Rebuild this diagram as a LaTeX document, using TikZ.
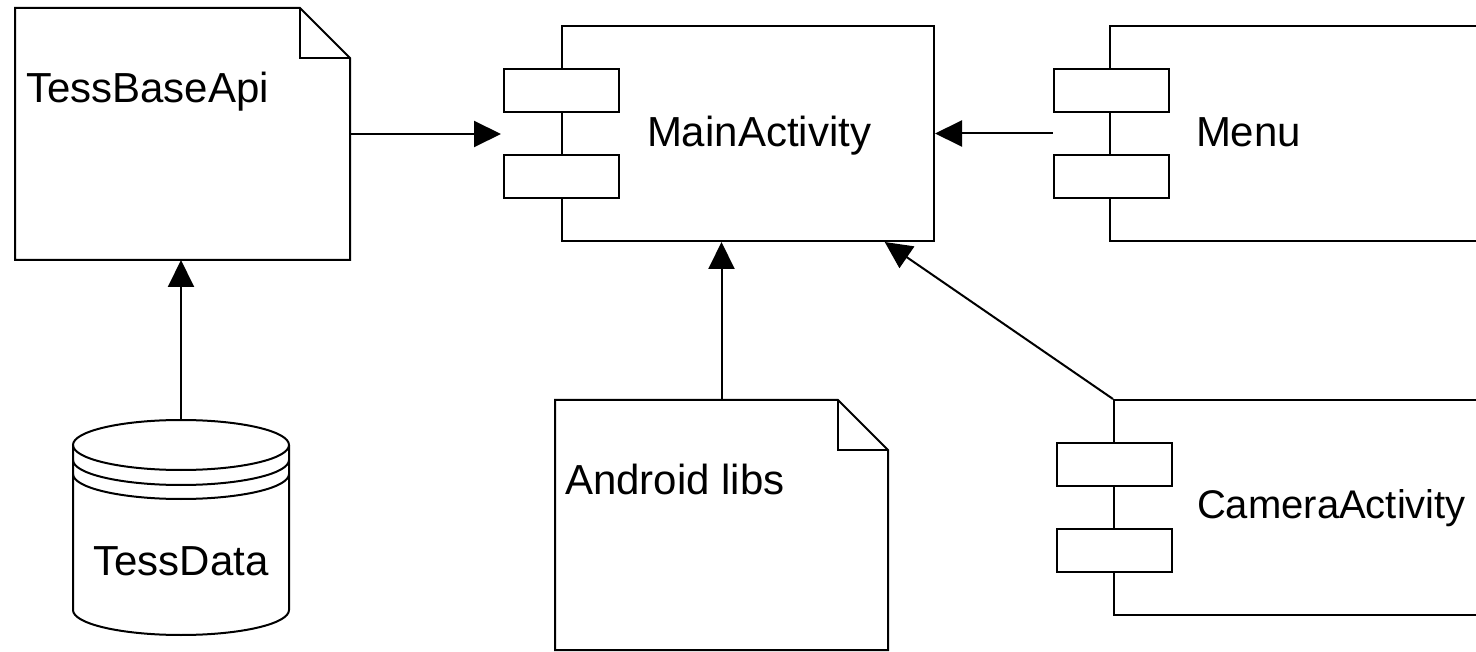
\documentclass[tikz,border=0pt]{standalone}
\usepackage{fontspec}
\setmainfont{Liberation Sans}
\usetikzlibrary{arrows.meta,calc}
\begin{document}
\begin{tikzpicture}[x=1pt,y=-1pt,line width=2pt,
  lbl/.style={font=\fontsize{42}{50}\selectfont,inner sep=0pt,anchor=base west},
  area/.style={rectangle,inner sep=0pt,outer sep=0pt},
  comp/.style={draw,rectangle,inner sep=0pt,minimum width=372pt,minimum height=215pt},
  port/.style={draw,fill=white,rectangle,inner sep=0pt,minimum width=115pt,minimum height=43pt},
  arr/.style={-{Triangle[length=27pt,width=26pt]},line width=2pt}]
\useasboundingbox (0,0) rectangle (1476,652);
\clip (0,0) rectangle (1476,652);
\fill[white] (0,0) rectangle (1476,652);

% TessBaseApi (document)
\node[area,minimum width=335pt,minimum height=252pt] (tba) at (182.5,134) {};
\draw (tba.north west) -- ($(tba.north east)+(-50,0)$) -- ($(tba.north east)+(0,50)$)
      -- (tba.south east) -- (tba.south west) -- cycle;
\draw ($(tba.north east)+(-50,0)$) -- ($(tba.north east)+(-50,50)$) -- ($(tba.north east)+(0,50)$);
\node[lbl] (tbat) at (25,103) {TessBaseApi};

% MainActivity (component)
\node[comp] (main) at (748,133.5) {};
\node[port] (mainp1) at (561.5,90.5) {};
\node[port] (mainp2) at (561.5,177) {};
\node[lbl] (maint) at (646,147) {MainActivity};

% Menu (component)
\node[comp] (menu) at (1296,133.5) {};
\node[port] (menup1) at (1111,90.5) {};
\node[port] (menup2) at (1111,177) {};
\node[lbl] (menut) at (1195,147) {Menu};

% CameraActivity (component)
\node[comp] (cam) at (1300,507.5) {};
\node[port] (camp1) at (1114.5,464) {};
\node[port] (camp2) at (1114.5,550.5) {};
\node[lbl,font=\fontsize{40}{48}\selectfont] (camt) at (1196,518) {CameraActivity};

% Android libs (document)
\node[area,minimum width=333pt,minimum height=250pt] (al) at (721.5,525) {};
\draw (al.north west) -- ($(al.north east)+(-50,0)$) -- ($(al.north east)+(0,50)$)
      -- (al.south east) -- (al.south west) -- cycle;
\draw ($(al.north east)+(-50,0)$) -- ($(al.north east)+(-50,50)$) -- ($(al.north east)+(0,50)$);
\node[lbl] (alt) at (564,494) {Android libs};

% TessData (database)
\node[area,minimum width=216pt,minimum height=215pt] (td) at (181,527.5) {};
\draw[fill=white] (73,445) -- (73,610) arc[start angle=180,end angle=360,x radius=108,y radius=-25]
      -- (289,445);
\draw (181,445) ellipse [x radius=108,y radius=25];
\draw (73,460) arc[start angle=180,end angle=360,x radius=108,y radius=-25];
\draw (73,474) arc[start angle=180,end angle=360,x radius=108,y radius=-25];
\node[font=\fontsize{42}{50}\selectfont,inner sep=0pt,anchor=base] (tdt) at (181,575) {TessData};

% connectors
\coordinate (mainC) at ($(main.south)!0.731!(main.south east)$);
\draw[arr,shorten >=2pt] (tba.east) -- (tba.east -| mainp1.west);
\draw[arr] (menup1.west |- menu.west) -- (main.east);
\draw[arr] (td.north) -- (td.north |- tba.south);
\draw[arr] (al.north) -- (al.north |- main.south);
\draw[arr] (cam.north west) -- (mainC);
\end{tikzpicture}
\end{document}
